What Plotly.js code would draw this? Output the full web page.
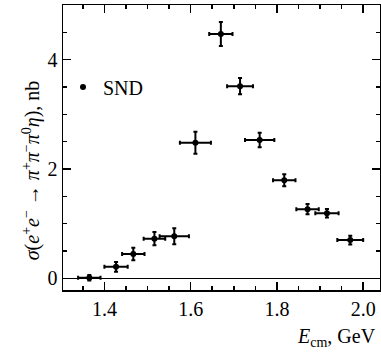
<!DOCTYPE html>
<html><head><meta charset="utf-8">
<script src="https://cdn.plot.ly/plotly-3.0.1.min.js"></script>
</head><body style="margin:0;background:#fff">
<div id="c" style="width:381px;height:354px"></div>
<script>
const energy = [1.365, 1.427, 1.467, 1.516, 1.562, 1.611, 1.670, 1.7145, 1.760, 1.817, 1.871, 1.916, 1.970];
const energyErr = [0.026, 0.027, 0.026, 0.025, 0.034, 0.036, 0.027, 0.030, 0.034, 0.026, 0.026, 0.027, 0.030];
const crossSection = [0.01, 0.21, 0.445, 0.725, 0.77, 2.48, 4.47, 3.515, 2.53, 1.795, 1.265, 1.19, 0.70];
const crossSectionErr = [0.05, 0.09, 0.116, 0.12, 0.146, 0.20, 0.22, 0.15, 0.134, 0.11, 0.095, 0.077, 0.08];
const seriesName = 'SND';
const xTicks = [1.4, 1.6, 1.8, 2.0];
const xTickText = ['1.4', '1.6', '1.8', '2.0'];
const yTicks = [0, 2, 4];
const yTickText = ['0', '2', '4'];

const serifFamily = 'Liberation Serif';
function makeTrace() {
  return {
    x: energy, y: crossSection, type: 'scatter', mode: 'markers', name: seriesName,
    marker: {color: '#000', size: 6},
    error_x: {type: 'data', array: energyErr, visible: true, color: '#000', thickness: 2, width: 2},
    error_y: {type: 'data', array: crossSectionErr, visible: true, color: '#000', thickness: 2, width: 2}
  };
}
function axisBase() {
  return {
    showline: true, linecolor: '#000', linewidth: 1.5, mirror: 'allticks',
    ticks: 'inside', ticklen: 8, tickwidth: 1.5, tickcolor: '#000',
    showgrid: false, tickfont: {family: serifFamily, size: 20, color: '#000'}
  };
}
function makeLayout() {
  return {
    width: 381, height: 354,
    margin: {l: 63, r: 1, t: 5, b: 64},
    paper_bgcolor: '#fff', plot_bgcolor: '#fff',
    font: {family: serifFamily, size: 20, color: '#000'},
    xaxis: Object.assign(axisBase(), {
      range: [1.304, 2.039], tickvals: xTicks, ticktext: xTickText,
      zeroline: false,
      minor: {dtick: 0.05, tick0: 0, ticks: 'inside', ticklen: 4, tickwidth: 1.5, tickcolor: '#000', showgrid: false}
    }),
    yaxis: Object.assign(axisBase(), {
      range: [-0.214, 5.0], tickvals: yTicks, ticktext: yTickText,
      zeroline: true, zerolinecolor: '#000', zerolinewidth: 1.5,
      minor: {dtick: 0.5, tick0: 0, ticks: 'inside', ticklen: 4, tickwidth: 1.5, tickcolor: '#000', showgrid: false}
    }),
    showlegend: true,
    legend: {x: 0.0, y: 0.712, xanchor: 'left', yanchor: 'middle', bgcolor: 'rgba(0,0,0,0)',
      font: {family: serifFamily, size: 20, color: '#000'}, itemwidth: 30, tracegroupgap: 0},
    annotations: [
      {xref: 'paper', yref: 'paper', x: 0.9937, y: -0.165, xanchor: 'right', yanchor: 'middle', showarrow: false,
       text: '<i>E</i><sub>cm</sub>, GeV', font: {family: serifFamily, size: 20, color: '#000'}},
      {xref: 'paper', yref: 'paper', x: -0.101, y: 0.42, xanchor: 'center', yanchor: 'middle', showarrow: false, textangle: -90,
       text: '<i>σ</i>(<i>e</i><sup>+</sup><i>e</i><sup>−</sup> → <i>π</i><sup>+</sup><i>π</i><sup>−</sup><i>π</i><sup>0</sup><i>η</i>), nb',
       font: {family: serifFamily, size: 20, color: '#000'}}
    ]
  };
}
const cfg = {displayModeBar: false, staticPlot: true};
Plotly.newPlot('c', [makeTrace()], makeLayout(), cfg);
function redrawChart() {
  Plotly.purge('c');
  Plotly.newPlot('c', [makeTrace()], makeLayout(), cfg);
}
if (document.fonts && document.fonts.load) {
  document.fonts.load('20px "Liberation Serif"').then(redrawChart, function () {});
}
setTimeout(redrawChart, 250);
</script>
</body></html>
